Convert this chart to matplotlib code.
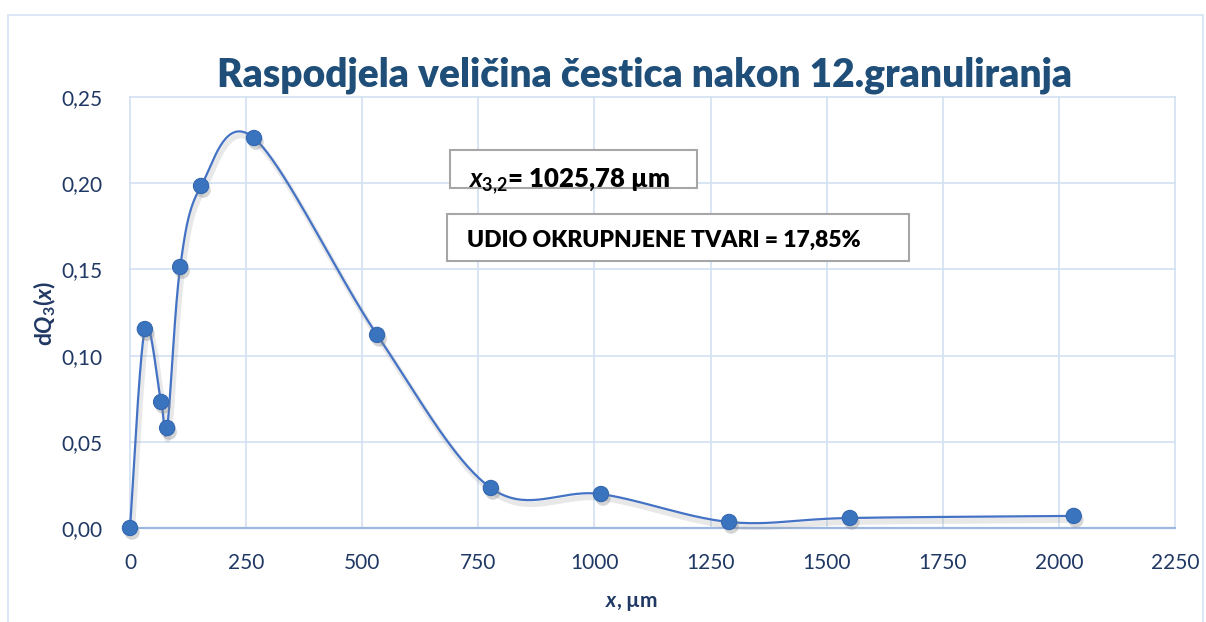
import numpy as np
import matplotlib
matplotlib.use("Agg")
import matplotlib.pyplot as plt
from matplotlib import patheffects as pe
from matplotlib.patches import Rectangle

# ---- data ----
x_um = [0, 32, 67, 80, 108, 153, 267, 532, 777, 1014, 1290, 1550, 2032]
dQ3 = [0.000, 0.1154, 0.0731, 0.0580, 0.1514, 0.1984, 0.2262, 0.1120, 0.0232, 0.0197, 0.0035, 0.0058, 0.0070]
x_ticks = [0, 250, 500, 750, 1000, 1250, 1500, 1750, 2000, 2250]
y_ticks = [0.00, 0.05, 0.10, 0.15, 0.20, 0.25]
title = "Raspodjela veličina čestica nakon 12.granuliranja"
box1_text = r"$x_{\mathrm{3{,}2}}$" + "= 1025,78 µm"
box2_text = "UDIO OKRUPNJENE TVARI = 17,85%"

plt.rcParams['font.family'] = ['Lato', 'DejaVu Sans']
plt.rcParams['mathtext.fontset'] = 'custom'
plt.rcParams['mathtext.rm'] = 'Lato:bold'
plt.rcParams['mathtext.it'] = 'Lato:bold:italic'
plt.rcParams['mathtext.bf'] = 'Lato:bold'


def smooth(xs, ys, n=40):
    # Excel-like smoothed line: cubic Bezier with Catmull-Rom control points
    P = np.column_stack([xs, ys]).astype(float)
    out = []
    for i in range(len(P) - 1):
        p0 = P[i - 1] if i > 0 else P[i]
        p1 = P[i]
        p2 = P[i + 1]
        p3 = P[i + 2] if i + 2 < len(P) else P[i + 1]
        c1 = p1 + (p2 - p0) / 6.0
        c2 = p2 - (p3 - p1) / 6.0
        t = np.linspace(0, 1, n)[:, None]
        seg = ((1 - t) ** 3) * p1 + 3 * ((1 - t) ** 2) * t * c1 + 3 * (1 - t) * t ** 2 * c2 + t ** 3 * p2
        out.append(seg if i == 0 else seg[1:])
    s = np.vstack(out)
    return s[:, 0], s[:, 1]


W, H = 1206, 622
fig = plt.figure(figsize=(W / 100, H / 100), dpi=100)
fig.patch.set_facecolor('white')

# chart border
fig.patches.append(Rectangle((8 / W, -0.05), (1203 - 8) / W, 1 - 15 / H + 0.05,
                             transform=fig.transFigure, fill=False,
                             edgecolor='#D6E3F3', linewidth=1.2))

ax = fig.add_axes([130 / W, 1 - 528 / H, 1045 / W, 431 / H])
ax.set_xlim(0, 2250)
ax.set_ylim(0, 0.25)
for s in ax.spines.values():
    s.set_visible(False)

grid_c = '#D5E2F3'
for xv in x_ticks:
    ax.axvline(xv, color=grid_c, lw=1.3, zorder=0, clip_on=False)
for yv in y_ticks:
    ax.axhline(yv, color=grid_c, lw=1.3, zorder=0, clip_on=False)
ax.axhline(0, color='#9DB8E0', lw=1.6, zorder=1, clip_on=False)

ax.set_xticks(x_ticks)
ax.set_yticks(y_ticks)
ax.set_xticklabels([str(v) for v in x_ticks])
ax.set_yticklabels([f"{v:.2f}".replace('.', ',') for v in y_ticks])
lab_c = '#203864'
ax.tick_params(axis='both', length=0, labelsize=15, labelcolor=lab_c)
ax.tick_params(axis='x', pad=18)
ax.tick_params(axis='y', pad=20)

line_c = '#4472C4'
sx, sy = smooth(x_um, dQ3)
ax.plot(sx, sy, color=line_c, lw=1.6, zorder=3, clip_on=False,
        path_effects=[pe.SimpleLineShadow(offset=(1.5, -3), shadow_color='#999999', alpha=0.22, linewidth=4),
                      pe.Normal()])
ax.plot(x_um, dQ3, linestyle='none', marker='o', markersize=11, color='#3A73BE',
        markeredgecolor='#3468B0', markeredgewidth=0.8, zorder=4, clip_on=False,
        path_effects=[pe.SimplePatchShadow(offset=(1.5, -3), shadow_rgbFace='#888888', alpha=0.35),
                      pe.Normal()])

# title
fig.text(645 / W, 1 - 75 / H, title, ha='center', va='center', fontsize=28.1,
         fontweight='heavy', color='#1F4E79')

# axis labels
fig.text(632 / W, 1 - 603 / H, r"$x$" + ", µm", ha='center', va='center', fontsize=15,
         fontweight='bold', color=lab_c)
fig.text(45 / W, 1 - 313 / H, r"d$Q_{\mathrm{3}}$($x$)", ha='center', va='center', fontsize=16.5,
         fontweight='bold', color=lab_c, rotation=90)

# text boxes
fig.patches.append(Rectangle((450 / W, 1 - 188 / H), 247 / W, 38 / H, transform=fig.transFigure,
                             facecolor='white', edgecolor='#A6A6A6', linewidth=1.5, zorder=5))
fig.text(468 / W, 1 - 181 / H, box1_text, ha='left', va='center', fontsize=18.5,
         fontweight='heavy', color='black', zorder=6)
fig.patches.append(Rectangle((447 / W, 1 - 261 / H), 462 / W, 47 / H, transform=fig.transFigure,
                             facecolor='white', edgecolor='#A6A6A6', linewidth=1.5, zorder=5))
fig.text(467 / W, 1 - 240 / H, box2_text, ha='left', va='center', fontsize=16.5,
         fontweight='heavy', color='black', zorder=6)

fig.savefig('out.png', dpi=100, facecolor='white')
